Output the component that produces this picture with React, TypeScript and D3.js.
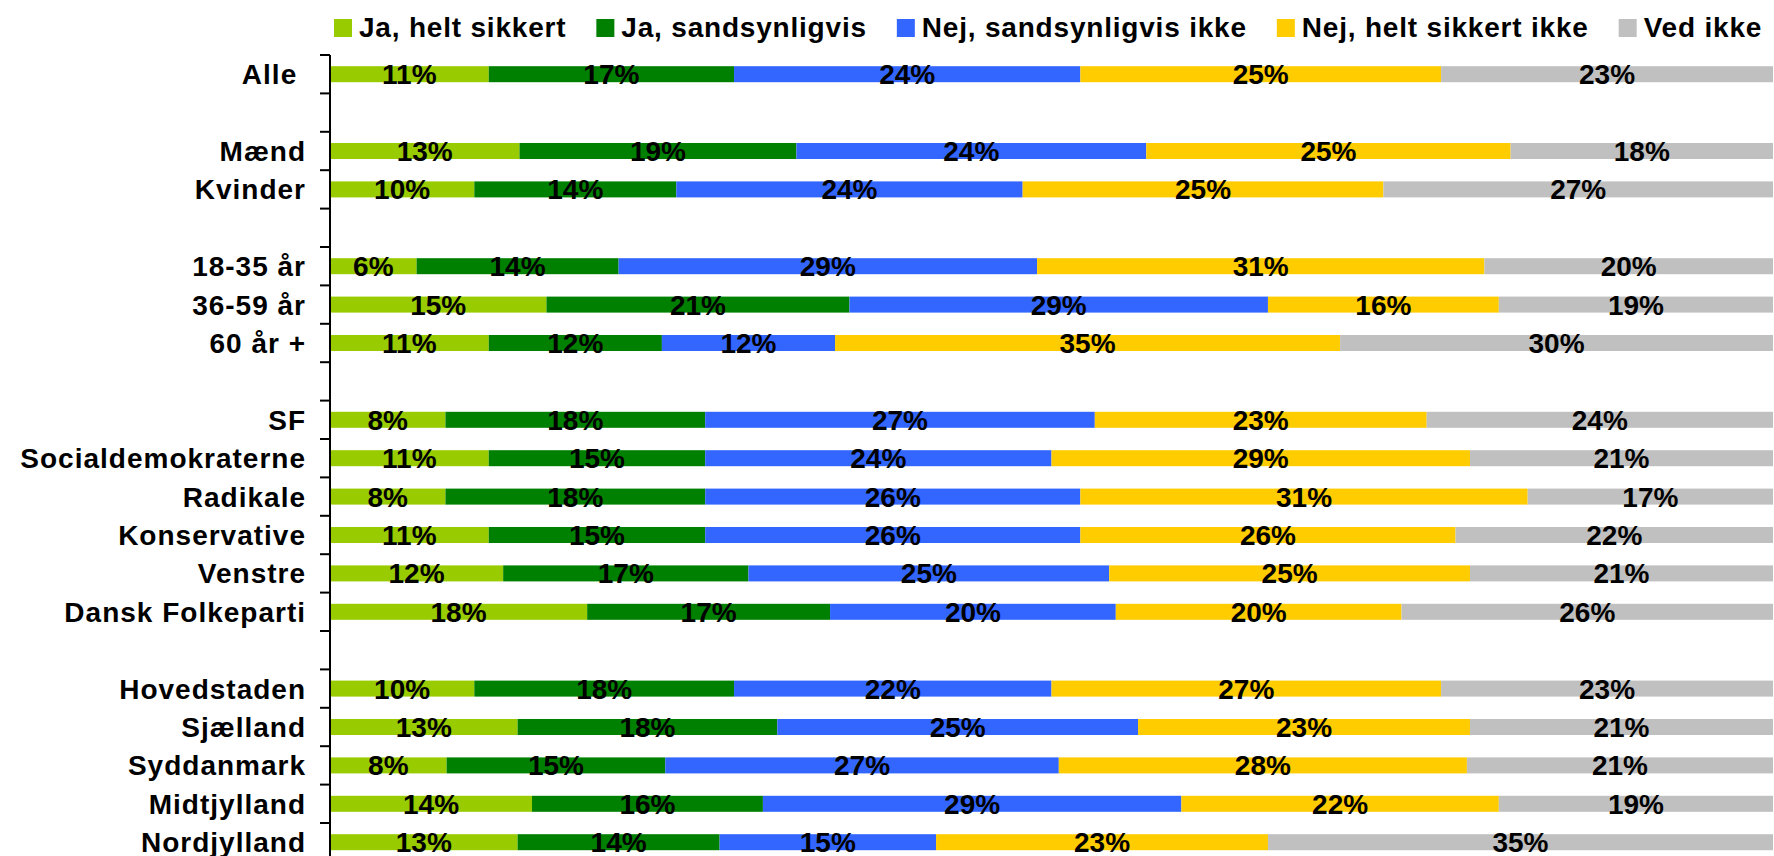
import * as d3 from "d3"

const categories = [
  "Alle ", "", "Mænd", "Kvinder", "", "18-35 år", "36-59 år", "60 år +", "",
  "SF", "Socialdemokraterne", "Radikale", "Konservative", "Venstre", "Dansk Folkeparti", "",
  "Hovedstaden", "Sjælland", "Syddanmark", "Midtjylland", "Nordjylland",
]

const seriesNames = [
  "Ja, helt sikkert",
  "Ja, sandsynligvis",
  "Nej, sandsynligvis ikke",
  "Nej, helt sikkert ikke",
  "Ved ikke",
]

const colors = ["#99CC00", "#008000", "#3366FF", "#FFCC00", "#C0C0C0"]

// null = blank spacer row
const jaHelt = [11, null, 13, 10, null, 6, 15, 11, null, 8, 11, 8, 11, 12, 18, null, 10, 13, 8, 14, 13]
const jaSand = [17, null, 19, 14, null, 14, 21, 12, null, 18, 15, 18, 15, 17, 17, null, 18, 18, 15, 16, 14]
const nejSand = [24, null, 24, 24, null, 29, 29, 12, null, 27, 24, 26, 26, 25, 20, null, 22, 25, 27, 29, 15]
const nejHelt = [25, null, 25, 25, null, 31, 16, 35, null, 23, 29, 31, 26, 25, 20, null, 27, 23, 28, 22, 23]
const vedIkke = [23, null, 18, 27, null, 20, 19, 30, null, 24, 21, 17, 22, 21, 26, null, 23, 21, 21, 19, 35]

const allSeries = [jaHelt, jaSand, nejSand, nejHelt, vedIkke]

const width = 1774
const height = 856
const axisX = 330
const plotTop = 55
const rowStep = 38.4
const font = "'Liberation Sans', Arial, sans-serif"

function textWidth(s: string, size: number, spacing: number) {
  const ctx = document.createElement("canvas").getContext("2d")!
  ctx.font = `bold ${size}px 'Liberation Sans', Arial, sans-serif`
  return ctx.measureText(s).width + spacing * s.length
}

export default function App() {
  const keys = seriesNames.map((_, k) => `s${k}`)
  const rows = categories.map((name, i) => {
    const r: any = { name, i }
    allSeries.forEach((arr, k) => (r[`s${k}`] = arr[i] ?? 0))
    return r
  })

  const stacked = d3.stack<any>().keys(keys).offset(d3.stackOffsetExpand)(rows)

  const x = d3.scaleLinear().domain([0, 1]).range([axisX, width - 1])
  const y = d3
    .scaleBand<number>()
    .domain(d3.range(categories.length))
    .range([plotTop, plotTop + rowStep * categories.length])
    .paddingInner(0.583)
    .paddingOuter(0.2915)

  const half = (y.step() - y.bandwidth()) / 2
  const tickYs = d3.range(categories.length + 1).map((i) =>
    i < categories.length ? y(i)! - half : y(i - 1)! + y.bandwidth() + half,
  )

  // legend layout
  const legendSpacing = 0.8
  let lx = 334
  const legendItems = seriesNames.map((name, k) => {
    const item = { name, k, x: lx }
    lx += 25 + textWidth(name, 28, legendSpacing) + 30
    return item
  })

  return (
    <div style={{ position: "absolute", left: 0, top: 0 }}>
      <svg width={width} height={height} style={{ display: "block", background: "#fff" }}>
        {/* legend */}
        <g>
          {legendItems.map((d) => (
            <g key={d.name} transform={`translate(${d.x},0)`}>
              <rect x={0} y={19} width={18} height={18} fill={colors[d.k]} />
              <text
                x={25}
                y={36.5}
                fontFamily={font}
                fontWeight="bold"
                fontSize={28}
                letterSpacing={legendSpacing}
                fill="#000"
              >
                {d.name}
              </text>
            </g>
          ))}
        </g>

        {/* bars */}
        {stacked.map((s, k) => (
          <g key={s.key} fill={colors[k]}>
            {s
              .filter((d) => allSeries[k][d.data.i] != null)
              .map((d) => (
                <rect
                  key={d.data.i}
                  x={x(d[0])}
                  y={y(d.data.i)}
                  width={x(d[1]) - x(d[0])}
                  height={y.bandwidth()}
                />
              ))}
          </g>
        ))}

        {/* value labels */}
        {stacked.map((s, k) => (
          <g key={`l${s.key}`}>
            {s
              .filter((d) => allSeries[k][d.data.i] != null)
              .map((d) => (
                <text
                  key={d.data.i}
                  x={(x(d[0]) + x(d[1])) / 2}
                  y={y(d.data.i)! + y.bandwidth() / 2}
                  dy="0.36em"
                  textAnchor="middle"
                  fontFamily={font}
                  fontWeight="bold"
                  fontSize={28}
                  fill="#000"
                >
                  {allSeries[k][d.data.i]}%
                </text>
              ))}
          </g>
        ))}

        {/* y axis */}
        <g stroke="#000" strokeWidth={2}>
          <line x1={axisX} x2={axisX} y1={plotTop} y2={height + 20} />
          {tickYs.map((ty, i) => (
            <line key={i} x1={axisX - 10} x2={axisX} y1={ty} y2={ty} />
          ))}
        </g>

        {/* category labels */}
        {categories.map((c, i) =>
          c ? (
            <text
              key={i}
              x={axisX - 24}
              y={y(i)! + y.bandwidth() / 2}
              dy="0.36em"
              textAnchor="end"
              fontFamily={font}
              fontWeight="bold"
              fontSize={28}
              letterSpacing={1}
              style={{ whiteSpace: "pre" }}
              fill="#000"
            >
              {c}
            </text>
          ) : null,
        )}
      </svg>
    </div>
  )
}
